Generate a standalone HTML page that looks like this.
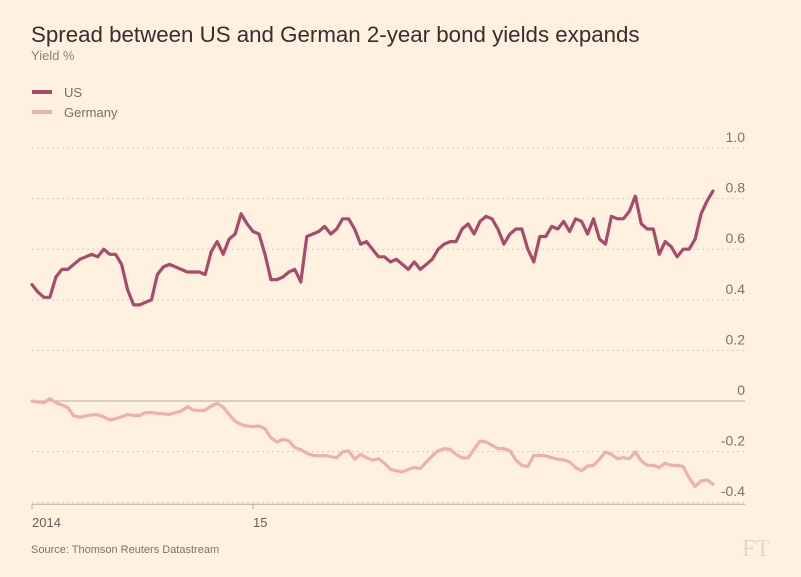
<!DOCTYPE html>
<html><head><meta charset="utf-8"><style>
html,body{margin:0;padding:0;background:#fff1e0;}
body{width:801px;height:572px;overflow:hidden;font-family:"Liberation Sans",sans-serif;}
</style></head><body>
<svg width="801" height="572" viewBox="0 0 801 572" id="chart">
<rect width="801" height="572" fill="#fff1e0"/>
<text x="31" y="42" font-size="22.3" fill="#33302e">Spread between US and German 2-year bond yields expands</text>
<text x="31" y="60" font-size="13" fill="#8a827b">Yield %</text>
<g><line x1="32" y1="92" x2="52" y2="92" stroke="#a84b6b" stroke-width="4"/><text x="64" y="97" font-size="13" fill="#74706b">US</text></g>
<g><line x1="32" y1="112" x2="52" y2="112" stroke="#eeb0ae" stroke-width="4"/><text x="64" y="117" font-size="13" fill="#74706b">Germany</text></g>
<g id="grid"></g><g id="series"></g><g id="xaxis"></g>
<text x="31" y="553" font-size="11" fill="#7a736d">Source: Thomson Reuters Datastream</text>
<text x="742" y="556" font-size="24" font-family="Liberation Serif,serif" fill="#e6d7c4">FT</text>
</svg>
<script>
const yTicks=[1.0,0.8,0.6,0.4,0.2,0,-0.2,-0.4];
const yTickLabels=["1.0","0.8","0.6","0.4","0.2","0","-0.2","-0.4"];
const xTicks=[2014,2015];
const xTickLabels=["2014","15"];
const startYear=2014;
const pointsPerYear=37;
const usValues=[.46,.43,.41,.41,.49,.52,.52,.54,.56,.57,.58,.57,.60,.58,.58,.54,.44,.38,.38,.39,.40,.50,.53,.54,.53,.52,.51,.51,.51,.50,.59,.63,.58,.64,.66,.74,.70,.67,.66,.58,.48,.48,.49,.51,.52,.47,.65,.66,.67,.69,.66,.68,.72,.72,.68,.62,.63,.60,.57,.57,.55,.56,.54,.52,.55,.52,.54,.56,.60,.62,.63,.63,.68,.70,.66,.71,.73,.72,.68,.62,.66,.68,.68,.60,.55,.65,.65,.69,.68,.71,.67,.72,.71,.66,.72,.64,.62,.73,.72,.72,.75,.81,.70,.68,.68,.58,.63,.61,.57,.60,.60,.64,.74,.79,.83];
const germanyValues=[0,-.004,-.007,.01,-.007,-.016,-.026,-.059,-.064,-.059,-.055,-.054,-.063,-.075,-.07,-.062,-.053,-.057,-.057,-.046,-.046,-.049,-.051,-.053,-.046,-.04,-.022,-.036,-.038,-.036,-.02,-.009,-.024,-.053,-.08,-.093,-.099,-.101,-.099,-.109,-.145,-.162,-.151,-.158,-.184,-.193,-.207,-.215,-.217,-.215,-.22,-.224,-.201,-.197,-.23,-.211,-.224,-.234,-.228,-.246,-.27,-.276,-.28,-.27,-.263,-.267,-.241,-.217,-.197,-.188,-.191,-.211,-.225,-.225,-.191,-.158,-.162,-.175,-.188,-.188,-.197,-.233,-.254,-.259,-.215,-.215,-.217,-.224,-.23,-.233,-.241,-.263,-.276,-.257,-.254,-.23,-.201,-.211,-.228,-.224,-.228,-.201,-.237,-.254,-.254,-.263,-.246,-.254,-.254,-.259,-.303,-.338,-.316,-.312,-.329];

const NS="http://www.w3.org/2000/svg";
const X0=32,X1=713,Y0=401,PPU=253;
const nPts=usValues.length;
const tEnd=startYear+(nPts-1)/pointsPerYear;
function xScale(t){return X0+(t-startYear)/(tEnd-startYear)*(X1-X0);}
function yScale(v){return Y0-v*PPU;}
function mk(tag,attrs,parent){const e=document.createElementNS(NS,tag);for(const k in attrs)e.setAttribute(k,attrs[k]);parent.appendChild(e);return e;}
const grid=document.getElementById('grid');
yTicks.forEach((v,i)=>{
  const y=yScale(v);
  const l=mk('line',{x1:X0,x2:745,y1:y,y2:y,stroke:v===0?'#b3aba3':'#d8cdbf','stroke-width':1,'stroke-dasharray':v===0?'none':'2,3'},grid);
  
  
  const t=mk('text',{x:745,y:y-6,'text-anchor':'end','font-size':14,fill:'#7a736d'},grid);
  t.textContent=yTickLabels[i];
  
  
});
const xa=document.getElementById('xaxis');
const axY=yScale(-0.4)+2;
const al=mk('line',{x1:X0,x2:745,y1:axY,y2:axY,stroke:'#b3aba3','stroke-width':1},xa);


xTicks.forEach((t,i)=>{
  const x=xScale(t);
  const tk=mk('line',{x1:x,x2:x,y1:axY,y2:axY+5,stroke:'#b3aba3'},xa);
  
  
  const lb=mk('text',{x:x,y:axY+23,'font-size':13,fill:'#66605c'},xa);
  lb.textContent=xTickLabels[i];
  
  
});
const sg=document.getElementById('series');
function line(vals,color,name){
  const d=vals.map((v,i)=>(i?'L':'M')+xScale(startYear+i/pointsPerYear).toFixed(1)+','+yScale(v).toFixed(1)).join('');
  const p=mk('path',{d:d,fill:'none',stroke:color,'stroke-width':3.2,'stroke-linejoin':'round','stroke-linecap':'round'},sg);
  
  
}
line(germanyValues,'#eeb0ae','germany-line');
line(usValues,'#a84b6b','us-line');
</script>
</body></html>
